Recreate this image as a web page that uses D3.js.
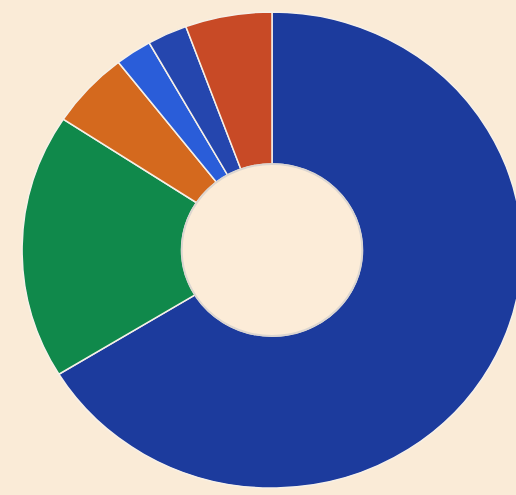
<!DOCTYPE html>
<html>
<head>
<meta charset="utf-8">
<script src="https://cdn.jsdelivr.net/npm/d3@7"></script>
<style>
  html, body { margin: 0; padding: 0; background: #faebd7; }
  svg { display: block; }
</style>
</head>
<body>
<div class="container"></div>
<script>
const width = 516;
const height = 495;
const cx = 272;
const cy = 250;
const outerRadius = 238;
const innerRadius = 86;
const stretchX = 1.05;

// slices clockwise from 12 o'clock
const categories = ['A', 'B', 'C', 'D', 'E', 'F'];
const values = [66.25, 18.0, 5.2, 2.36, 2.58, 5.6];
const colors = ['#1c3b9d', '#10894b', '#d4691e', '#2a5dd9', '#2546ae', '#c84a26'];

const data = categories.map((c, i) => ({ name: c, value: values[i], color: colors[i] }));

const pie = d3.pie()
    .sort(null)
    .value(d => d.value);

const arc = d3.arc()
    .innerRadius(innerRadius)
    .outerRadius(outerRadius);

const svg = d3.select('.container')
    .append('svg')
    .attr('width', width)
    .attr('height', height);

const g = svg.append('g')
    .attr('transform', `translate(${cx},${cy}) scale(${stretchX},1)`);

g.selectAll('.slice')
    .data(pie(data))
    .enter()
    .append('path')
    .attr('class', 'slice')
    .attr('d', arc)
    .attr('fill', d => d.data.color)
    .attr('stroke', '#f6f0e8')
    .attr('stroke-width', 1.5)
    .attr('vector-effect', 'non-scaling-stroke');

// light rim round the hole
g.append('circle')
    .attr('r', innerRadius)
    .attr('fill', '#fcecd8')
    .attr('stroke', '#dcd6d0')
    .attr('stroke-width', 2)
    .attr('vector-effect', 'non-scaling-stroke');
</script>
</body>
</html>
